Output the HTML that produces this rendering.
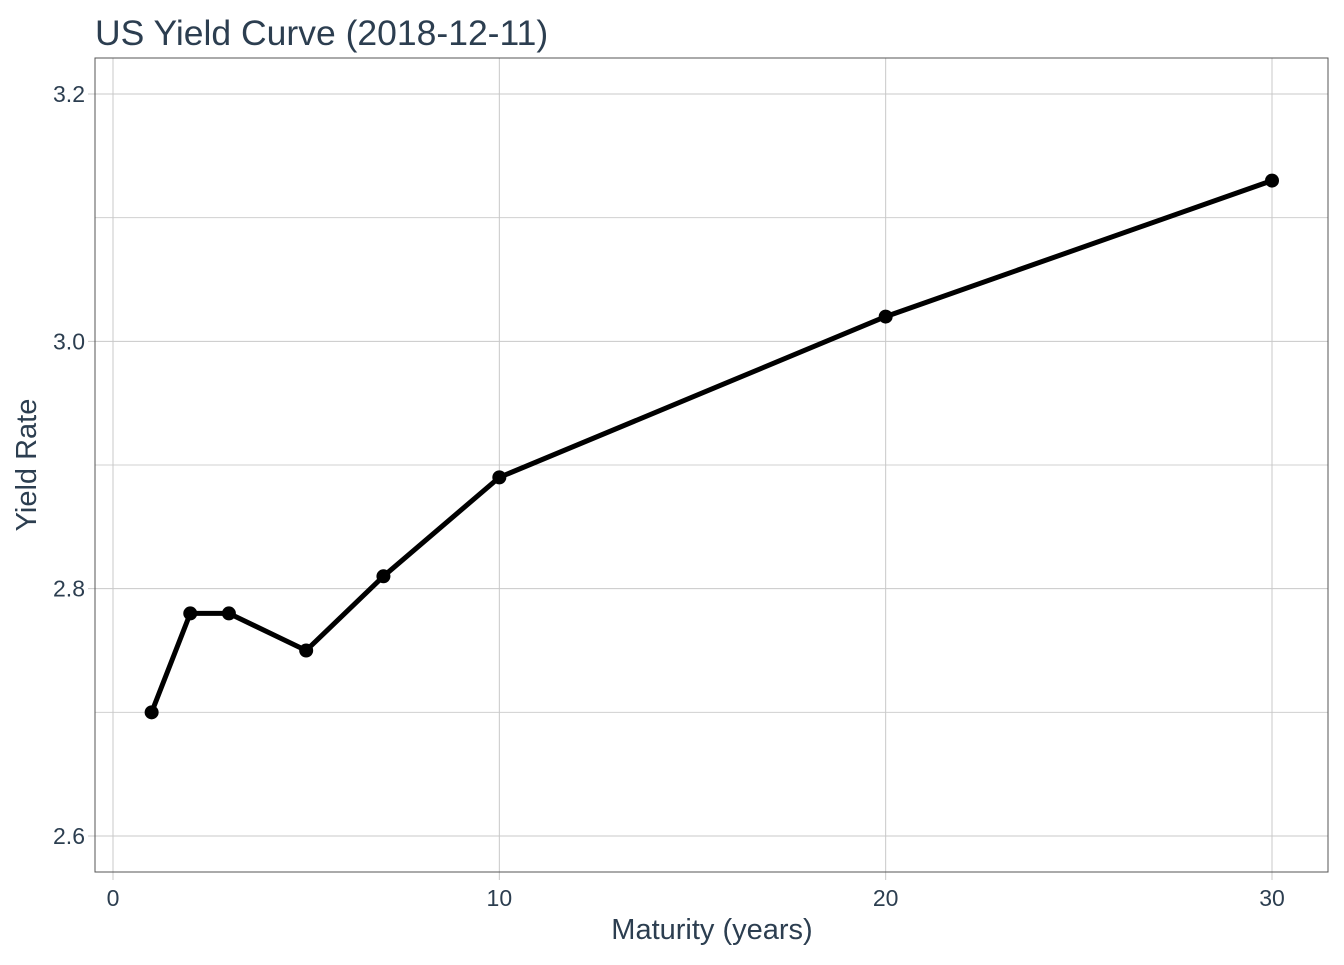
<!DOCTYPE html>
<html><head><meta charset="utf-8"><style>
body{margin:0;background:#fff;}
svg text{font-family:"Liberation Sans",Arial,sans-serif;fill:#2c3e50;}
</style></head><body>
<svg id="chart" width="1344" height="960" xmlns="http://www.w3.org/2000/svg">
<text x="95" y="45" font-size="35.5">US Yield Curve (2018-12-11)</text>
<g id="grid"></g>
<rect x="95" y="58" width="1233" height="814" fill="none" stroke="#555" stroke-width="1"/>
<g id="ticks"></g>
<g id="marks"></g>
<text x="712" y="939" font-size="29" text-anchor="middle">Maturity (years)</text>
<text transform="translate(36,465) rotate(-90)" font-size="29" text-anchor="middle">Yield Rate</text>
</svg>
<script>
const maturities=[1,2,3,5,7,10,20,30];
const yields=[2.70,2.78,2.78,2.75,2.81,2.89,3.02,3.13];
const xTicks=[0,10,20,30];
const yTicks=[2.6,2.8,3.0,3.2];
const yMinor=[2.7,2.9,3.1];
const NS="http://www.w3.org/2000/svg";
function xs(v){return 113+v*(1272-113)/30;}
function ys(v){return 836-(v-2.6)*(836-94)/0.6;}
function mk(t,a,p){const e=document.createElementNS(NS,t);for(const k in a)e.setAttribute(k,a[k]);document.getElementById(p).appendChild(e);return e;}
yMinor.forEach(v=>{const l=mk('line',{x1:95,x2:1328,y1:ys(v),y2:ys(v),stroke:'#d0d0d0','stroke-width':1},'grid');

});
yTicks.forEach(v=>{const l=mk('line',{x1:88,x2:1328,y1:ys(v),y2:ys(v),stroke:'#c8c8c8','stroke-width':1},'grid');


const t=mk('text',{x:85,y:ys(v)+8,'font-size':23,'text-anchor':'end'},'ticks');t.textContent=v.toFixed(1);

});
xTicks.forEach(v=>{const l=mk('line',{x1:xs(v),x2:xs(v),y1:58,y2:880,stroke:'#c8c8c8','stroke-width':1},'grid');


const t=mk('text',{x:xs(v),y:906,'font-size':23,'text-anchor':'middle'},'ticks');t.textContent=v;

});
const pl=mk('polyline',{points:maturities.map((m,i)=>xs(m)+','+ys(yields[i])).join(' '),fill:'none',stroke:'#000','stroke-width':5,'stroke-linejoin':'round'},'marks');


maturities.forEach((m,i)=>{const c=mk('circle',{cx:xs(m),cy:ys(yields[i]),r:7,fill:'#000'},'marks');

});
</script>
</body></html>
